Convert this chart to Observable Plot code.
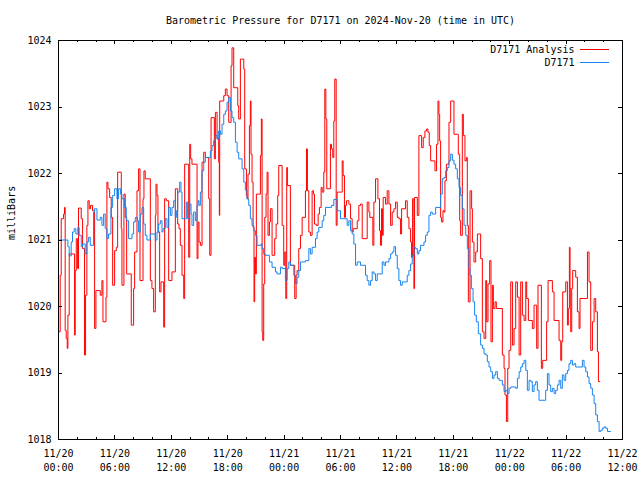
<!DOCTYPE html>
<html>
<head>
<meta charset="utf-8">
<script src="https://cdn.jsdelivr.net/npm/d3@7"></script>
<script src="https://cdn.jsdelivr.net/npm/@observablehq/plot@0.6"></script>
<style>
  html, body { margin: 0; padding: 0; background: #ffffff; }
  svg { display: block; }
</style>
</head>
<body>
<div id="chart"></div>
<script>
const chartTitle = "Barometric Pressure for D7171 on 2024-Nov-20 (time in UTC)";
const yAxisLabel = "milliBars";
const seriesNames = ["D7171 Analysis", "D7171"];
const seriesColors = ["#ff0000", "#1584f0"];
const startUTC = "2024-11-20T00:00:00Z";
const yTicks = [1018, 1019, 1020, 1021, 1022, 1023, 1024];
const xMajorTickHours = [0, 6, 12, 18, 24, 30, 36, 42, 48, 54, 60];
const xMinorTickHours = [2, 4, 8, 10, 14, 16, 20, 22, 26, 28, 32, 34, 38, 40, 44, 46, 50, 52, 56, 58];

// D7171 Analysis (red): hours since start, millibars
const analysisHours = [
  0.0, 0.18, 0.29, 0.54, 0.64, 0.71, 0.82, 0.93, 1.0, 1.14, 1.71, 1.78, 1.89, 2.03, 2.13, 2.42, 2.56, 2.77, 2.88, 3.02,
  3.13, 3.27, 3.41, 3.62, 3.84, 3.98, 4.44, 4.62, 4.73, 5.05, 5.15, 5.26, 5.44, 5.61, 5.76, 5.97, 6.15, 6.29, 6.68, 6.75,
  6.96, 7.10, 7.25, 7.74, 7.99, 8.10, 8.35, 8.52, 8.67, 8.99, 9.09, 9.23, 9.77, 9.94, 10.12, 10.30, 10.37, 10.48, 10.58, 10.76,
  10.90, 11.19, 11.29, 11.47, 11.72, 12.07, 12.43, 12.68, 12.82, 12.96, 13.14, 13.32, 13.42, 13.85, 13.96, 14.06, 14.20, 14.74, 14.84, 14.95,
  15.09, 15.27, 15.45, 15.62, 15.98, 16.09, 16.23, 16.58, 16.69, 16.87, 17.04, 17.11, 17.15, 17.58, 17.75, 17.93, 18.11, 18.36, 18.46, 18.64,
  19.07, 19.17, 19.35, 19.71, 19.81, 19.99, 20.06, 20.16, 20.31, 20.41, 20.48, 20.59, 20.70, 20.80, 20.87, 20.95, 21.05, 21.48, 21.58, 21.66,
  21.73, 21.83, 21.94, 22.08, 22.19, 22.29, 22.44, 22.54, 22.72, 23.0, 23.15, 23.32, 23.43, 23.79, 23.96, 24.07, 24.18, 24.28, 24.35, 24.67,
  25.13, 25.28, 25.38, 25.56, 25.74, 25.92, 26.27, 26.38, 26.48, 26.63, 26.80, 26.98, 27.12, 27.23, 27.41, 27.62, 27.76, 27.94, 28.05, 28.22,
  28.33, 28.44, 28.54, 28.93, 29.04, 29.18, 29.29, 29.39, 29.54, 29.64, 30.18, 30.28, 30.42, 30.53, 30.64, 30.89, 31.07, 31.24, 31.35, 31.78,
  31.95, 32.13, 32.31, 32.84, 33.02, 33.12, 33.44, 33.55, 33.73, 33.98, 34.15, 34.26, 34.37, 34.47, 34.54, 34.79, 34.97, 35.15, 35.33, 35.50,
  35.68, 35.86, 36.04, 36.21, 36.39, 36.50, 36.92, 37.10, 37.28, 37.46, 37.56, 37.67, 37.81, 37.88, 38.17, 38.34, 38.63, 38.80, 38.98, 39.16,
  39.30, 39.44, 39.59, 40.05, 40.22, 40.37, 40.47, 40.55, 40.65, 40.76, 40.90, 41.01, 41.11, 41.26, 41.54, 41.72, 42.07, 42.53, 42.68, 42.78,
  42.96, 43.07, 43.24, 43.39, 43.49, 43.60, 43.78, 43.95, 44.03, 44.20, 44.38, 44.56, 44.91, 45.09, 45.27, 45.45, 45.55, 45.69, 45.87, 46.01,
  46.16, 46.26, 46.44, 46.58, 47.22, 47.40, 47.50, 47.65, 47.79, 47.93, 48.11, 48.29, 48.46, 48.64, 48.82, 49.0, 49.17, 49.35, 49.53, 49.71,
  49.81, 49.99, 50.41, 50.59, 50.87, 51.01, 51.37, 51.51, 51.93, 52.08, 52.54, 52.72, 53.25, 53.43, 53.53, 53.64, 53.96, 54.14, 54.24, 54.35,
  54.42, 54.49, 54.60, 54.70, 55.02, 55.20, 55.38, 55.48, 56.27, 56.44, 56.62, 56.80, 56.98, 57.15, 57.33, 57.44, 57.62
];
const analysisMb = [
  1019.62, 1020.47, 1021.32, 1021.39, 1021.49, 1019.64, 1019.52, 1019.37, 1019.87, 1020.79, 1019.57, 1020.54, 1021.02, 1020.57, 1021.48, 1021.32, 1020.87, 1019.27, 1020.17, 1021.22,
  1021.59, 1021.47, 1021.52, 1021.44, 1019.67, 1020.24, 1020.17, 1020.39, 1019.77, 1020.14, 1021.87, 1021.77, 1021.64, 1021.34, 1020.32, 1020.84, 1020.89, 1022.02, 1021.17, 1020.32,
  1021.69, 1021.34, 1020.49, 1019.72, 1020.27, 1020.82, 1021.74, 1022.07, 1020.39, 1021.62, 1022.04, 1021.92, 1020.39, 1020.27, 1019.92, 1021.37, 1021.84, 1021.67, 1021.12, 1020.22,
  1020.37, 1019.69, 1021.62, 1021.59, 1020.39, 1020.52, 1021.77, 1021.24, 1021.17, 1020.92, 1020.47, 1020.12, 1022.14, 1020.74, 1022.44, 1022.22, 1022.14, 1020.72, 1021.27, 1020.97,
  1020.92, 1022.17, 1022.32, 1022.24, 1021.62, 1020.77, 1022.84, 1022.22, 1022.92, 1022.52, 1022.17, 1021.37, 1023.09, 1023.17, 1023.27, 1023.17, 1022.77, 1023.62, 1023.89, 1023.29,
  1023.02, 1022.82, 1023.72, 1023.57, 1022.07, 1021.67, 1021.62, 1021.99, 1022.72, 1023.09, 1022.29, 1021.87, 1021.19, 1020.07, 1020.74, 1020.49, 1021.69, 1022.27, 1022.82, 1019.62,
  1019.49, 1020.34, 1021.34, 1021.69, 1022.02, 1021.07, 1021.27, 1021.47, 1020.77, 1021.02, 1021.24, 1021.67, 1022.12, 1021.22, 1020.62, 1020.82, 1020.12, 1022.09, 1021.82, 1020.62,
  1020.12, 1020.47, 1020.54, 1020.87, 1021.07, 1021.34, 1021.74, 1022.37, 1021.74, 1021.12, 1021.07, 1021.74, 1021.69, 1021.24, 1021.22, 1021.39, 1021.49, 1021.79, 1021.72, 1022.02,
  1023.27, 1022.82, 1021.77, 1022.44, 1022.37, 1022.24, 1022.79, 1023.42, 1021.22, 1021.72, 1022.19, 1021.97, 1021.34, 1021.52, 1021.59, 1021.54, 1021.32, 1021.12, 1021.17, 1021.29,
  1021.52, 1021.54, 1021.02, 1021.57, 1021.42, 1021.34, 1020.92, 1021.57, 1021.92, 1021.62, 1021.14, 1020.92, 1021.47, 1021.07, 1021.64, 1021.54, 1021.74, 1021.54, 1021.22, 1021.42,
  1021.47, 1021.57, 1021.34, 1021.32, 1021.09, 1021.47, 1021.59, 1021.34, 1021.17, 1020.97, 1020.74, 1021.62, 1020.27, 1021.64, 1021.37, 1022.57, 1022.39, 1022.54, 1022.64, 1022.67,
  1022.62, 1022.42, 1022.19, 1022.04, 1022.44, 1023.09, 1022.89, 1022.49, 1021.34, 1021.27, 1021.44, 1021.42, 1021.89, 1022.14, 1022.77, 1023.09, 1022.59, 1022.29, 1021.29, 1021.07,
  1022.89, 1022.57, 1022.19, 1022.24, 1021.22, 1020.07, 1021.74, 1021.47, 1020.97, 1020.67, 1020.82, 1021.09, 1020.72, 1019.62, 1019.52, 1020.39, 1019.77, 1020.34, 1020.69, 1019.47,
  1020.32, 1019.97, 1020.07, 1019.97, 1019.27, 1019.07, 1018.67, 1018.27, 1019.07, 1019.34, 1020.37, 1019.42, 1019.67, 1020.37, 1020.14, 1019.27, 1020.37, 1019.87, 1019.79, 1020.37,
  1020.12, 1019.79, 1019.67, 1020.02, 1019.37, 1020.32, 1019.07, 1019.19, 1019.77, 1020.39, 1020.22, 1019.79, 1019.49, 1019.19, 1019.47, 1020.22, 1020.37, 1019.72, 1019.97, 1020.89,
  1020.27, 1019.62, 1020.27, 1020.54, 1020.44, 1019.92, 1019.67, 1020.12, 1020.82, 1020.37, 1019.34, 1019.77, 1020.12, 1019.92, 1019.32, 1018.87, 1018.87
];

// D7171 observed (blue): hours since start, millibars
const obsHours = [
  0.0, 1.0, 1.14, 1.35, 1.49, 1.67, 1.85, 2.06, 2.20, 2.42, 2.56, 2.84, 3.02, 3.20, 3.38, 3.73, 3.84, 4.09, 4.44, 4.62,
  4.80, 4.97, 5.15, 5.33, 5.58, 5.76, 5.97, 6.22, 6.39, 6.61, 6.75, 7.0, 7.21, 7.46, 7.82, 7.99, 8.17, 8.38, 8.52, 8.70,
  8.88, 9.06, 9.23, 9.41, 9.77, 10.30, 10.48, 10.65, 10.83, 11.01, 11.12, 11.36, 11.54, 11.72, 11.90, 12.07, 12.25, 12.43, 12.54, 12.68,
  12.89, 13.03, 13.14, 13.6, 13.74, 13.95, 14.10, 14.20, 14.38, 14.56, 14.74, 14.84, 14.95, 15.09, 15.27, 15.45, 15.62, 16.16, 16.33, 16.51,
  16.69, 16.87, 17.04, 17.22, 17.40, 17.58, 17.75, 17.93, 18.11, 18.29, 18.46, 18.64, 18.82, 19.0, 19.17, 19.53, 19.71, 19.88, 20.06, 20.24,
  20.41, 20.59, 20.77, 20.95, 21.12, 21.55, 21.66, 21.83, 22.01, 22.44, 22.72, 23.08, 23.25, 23.61, 23.79, 24.14, 24.32, 24.50, 24.67, 25.03,
  25.21, 25.38, 25.56, 25.74, 26.27, 26.63, 26.80, 26.98, 27.34, 27.51, 27.69, 28.05, 28.22, 28.40, 29.04, 29.29, 29.64, 30.0, 30.71, 30.89,
  31.07, 31.24, 31.42, 31.60, 31.78, 32.13, 32.66, 32.84, 33.02, 33.20, 33.37, 33.55, 33.73, 33.91, 34.44, 34.62, 34.79, 35.15, 35.33, 35.50,
  35.68, 35.86, 36.04, 36.21, 36.39, 36.57, 37.10, 37.28, 37.46, 37.63, 37.81, 37.99, 38.17, 38.34, 38.52, 38.88, 39.05, 39.23, 39.41, 39.59,
  39.76, 40.12, 40.65, 40.83, 41.01, 41.19, 41.36, 41.54, 41.72, 41.90, 42.07, 42.25, 42.43, 42.61, 42.78, 42.96, 43.14, 43.32, 43.49, 43.67,
  43.78, 43.92, 44.10, 44.27, 44.45, 44.66, 44.91, 45.09, 45.27, 45.45, 45.62, 45.80, 45.98, 46.16, 46.33, 46.51, 46.69, 46.87, 47.22, 47.40,
  47.58, 47.75, 47.93, 48.11, 48.64, 48.82, 49.0, 49.17, 49.35, 49.53, 49.71, 49.88, 50.06, 50.24, 50.41, 50.59, 50.76, 50.94, 51.12, 51.83,
  52.01, 52.18, 52.36, 52.54, 52.72, 52.89, 53.07, 53.25, 53.43, 53.60, 53.78, 53.96, 54.14, 54.31, 54.49, 54.67, 54.85, 55.02, 55.73, 55.91,
  56.09, 56.27, 56.44, 56.62, 56.80, 56.98, 57.15, 57.33, 57.51, 57.69, 57.86, 58.04, 58.22, 58.40, 58.75
];
const obsMb = [
  1021.0, 1020.9, 1020.76, 1020.97, 1021.12, 1021.17, 1021.09, 1021.19, 1021.07, 1020.9, 1020.94, 1020.79, 1020.97, 1021.04, 1020.92, 1021.42, 1021.47, 1021.3, 1021.34, 1021.22,
  1021.39, 1021.17, 1021.02, 1021.09, 1021.49, 1021.67, 1021.77, 1021.62, 1021.77, 1021.69, 1021.62, 1021.49, 1021.29, 1021.02, 1021.09, 1021.27, 1021.34, 1021.29, 1021.12, 1021.39,
  1021.49, 1021.24, 1021.07, 1021.0, 1021.09, 1021.0, 1021.12, 1021.24, 1021.29, 1021.12, 1021.17, 1021.32, 1021.19, 1021.49, 1021.37, 1021.49, 1021.59, 1021.34, 1021.44, 1021.72,
  1021.87, 1021.72, 1021.32, 1021.57, 1021.32, 1021.54, 1021.39, 1021.22, 1021.42, 1021.29, 1021.52, 1021.59, 1021.52, 1021.72, 1022.04, 1022.17, 1022.24, 1022.34, 1022.42, 1022.49,
  1022.57, 1022.52, 1022.64, 1022.59, 1022.74, 1022.89, 1022.94, 1023.07, 1023.14, 1022.94, 1022.84, 1022.77, 1022.47, 1022.32, 1022.22, 1022.07, 1021.87, 1021.75, 1021.62, 1021.52,
  1021.32, 1021.22, 1021.14, 1021.07, 1020.92, 1020.94, 1020.87, 1020.79, 1020.77, 1020.67, 1020.59, 1020.52, 1020.49, 1020.59, 1020.57, 1020.39, 1020.57, 1020.67, 1020.62, 1020.47,
  1020.34, 1020.44, 1020.54, 1020.67, 1020.69, 1020.87, 1020.79, 1020.89, 1021.02, 1021.12, 1021.19, 1021.29, 1021.37, 1021.49, 1021.52, 1021.61, 1021.44, 1021.32, 1021.22, 1021.29,
  1021.14, 1021.09, 1020.94, 1020.62, 1020.67, 1020.62, 1020.47, 1020.39, 1020.32, 1020.39, 1020.52, 1020.49, 1020.39, 1020.49, 1020.67, 1020.62, 1020.67, 1020.72, 1020.79, 1020.82,
  1020.9, 1020.77, 1020.57, 1020.39, 1020.32, 1020.37, 1020.47, 1020.54, 1020.64, 1020.77, 1020.89, 1020.87, 1020.79, 1020.84, 1020.92, 1020.97, 1021.07, 1021.12, 1021.37, 1021.42,
  1021.39, 1021.49, 1021.69, 1021.92, 1021.94, 1022.04, 1022.09, 1022.19, 1022.29, 1022.2, 1022.14, 1022.07, 1021.92, 1021.79, 1021.67, 1021.47, 1021.22, 1021.07, 1020.87, 1020.57,
  1020.47, 1020.27, 1020.07, 1019.87, 1019.77, 1019.59, 1019.42, 1019.37, 1019.29, 1019.27, 1019.17, 1019.09, 1019.02, 1018.92, 1018.97, 1019.02, 1018.92, 1018.89, 1018.82, 1018.72,
  1018.74, 1018.69, 1018.77, 1018.79, 1018.77, 1018.92, 1019.02, 1019.09, 1019.14, 1019.19, 1019.04, 1018.74, 1018.89, 1018.87, 1018.72, 1018.82, 1018.87, 1018.74, 1018.59, 1018.74,
  1018.99, 1018.82, 1018.72, 1018.77, 1018.69, 1018.74, 1018.82, 1018.89, 1018.77, 1018.97, 1018.89, 1018.99, 1019.04, 1019.14, 1019.19, 1019.12, 1019.14, 1019.09, 1019.19, 1019.09,
  1019.02, 1018.94, 1018.84, 1018.77, 1018.67, 1018.54, 1018.37, 1018.27, 1018.12, 1018.14, 1018.17, 1018.19, 1018.17, 1018.12, 1018.12
];

const t0 = Date.parse(startUTC);
const toDate = (h) => new Date(t0 + h * 3600e3);
const analysis = analysisHours.map((h, i) => ({t: toDate(h), v: analysisMb[i]}));
const observed = obsHours.map((h, i) => ({t: toDate(h), v: obsMb[i]}));
const majorTicks = xMajorTickHours.map(toDate);
const minorTicks = xMinorTickHours.map(toDate);

const W = 640, H = 480;
const mL = 58, mR = 18, mT = 40, mB = 41;
const fw = W - mL - mR, fh = H - mT - mB;
const majorLen = 4, minorLen = 2;
const midY = (mT + H - mB) / 2;

const chart = Plot.plot({
  width: W,
  height: H,
  marginLeft: mL,
  marginRight: mR,
  marginTop: mT,
  marginBottom: mB,
  style: {fontFamily: "'DejaVu Sans Mono', monospace", fontSize: "10px", background: "#ffffff", color: "#000000"},
  x: {type: "utc", domain: [toDate(xMajorTickHours[0]), toDate(xMajorTickHours[xMajorTickHours.length - 1])], label: null},
  y: {domain: [yTicks[0], yTicks[yTicks.length - 1]], label: null},
  marks: [
    Plot.lineY(analysis, {x: "t", y: "v", stroke: seriesColors[0], strokeWidth: 1, curve: "step-after"}),
    Plot.lineY(observed, {x: "t", y: "v", stroke: seriesColors[1], strokeWidth: 1, curve: "step-after"}),
    Plot.frame({stroke: "#000000", shapeRendering: "crispEdges"}),
    Plot.ruleX(majorTicks, {stroke: "#000000", insetTop: fh - majorLen, shapeRendering: "crispEdges"}),
    Plot.ruleX(majorTicks, {stroke: "#000000", insetBottom: fh - majorLen, shapeRendering: "crispEdges"}),
    Plot.ruleX(minorTicks, {stroke: "#000000", insetTop: fh - minorLen, shapeRendering: "crispEdges"}),
    Plot.ruleX(minorTicks, {stroke: "#000000", insetBottom: fh - minorLen, shapeRendering: "crispEdges"}),
    Plot.ruleY(yTicks, {stroke: "#000000", insetRight: fw - majorLen, shapeRendering: "crispEdges"}),
    Plot.ruleY(yTicks, {stroke: "#000000", insetLeft: fw - majorLen, shapeRendering: "crispEdges"}),
    Plot.axisY(yTicks, {anchor: "left", tickSize: 0, tickPadding: 7, tickFormat: (d) => String(d), label: null, fill: "#000000"}),
    Plot.axisX(majorTicks, {anchor: "bottom", tickSize: 0, tickPadding: 10, tickFormat: d3.utcFormat("%m/%d"), label: null, fill: "#000000"}),
    Plot.axisX(majorTicks, {anchor: "bottom", tickSize: 0, tickPadding: 24, tickFormat: d3.utcFormat("%H:%M"), label: null, fill: "#000000"}),
    Plot.text([chartTitle], {frameAnchor: "top", dy: -20, lineAnchor: "middle", fill: "#000000"}),
    Plot.text([yAxisLabel], {frameAnchor: "left", dx: -47, rotate: -90, fill: "#000000"}),
    Plot.text([seriesNames[0]], {frameAnchor: "top-right", dx: -48, dy: 9, textAnchor: "end", lineAnchor: "middle", fill: "#000000"}),
    Plot.text([seriesNames[1]], {frameAnchor: "top-right", dx: -48, dy: 22, textAnchor: "end", lineAnchor: "middle", fill: "#000000"}),
    Plot.ruleY([seriesNames[0]], {y: null, stroke: seriesColors[0], insetLeft: fw - 42, insetRight: 13, dy: mT + 9 - midY, shapeRendering: "crispEdges"}),
    Plot.ruleY([seriesNames[1]], {y: null, stroke: seriesColors[1], insetLeft: fw - 42, insetRight: 13, dy: mT + 22 - midY, shapeRendering: "crispEdges"})
  ]
});
document.getElementById("chart").appendChild(chart);
</script>
</body>
</html>
